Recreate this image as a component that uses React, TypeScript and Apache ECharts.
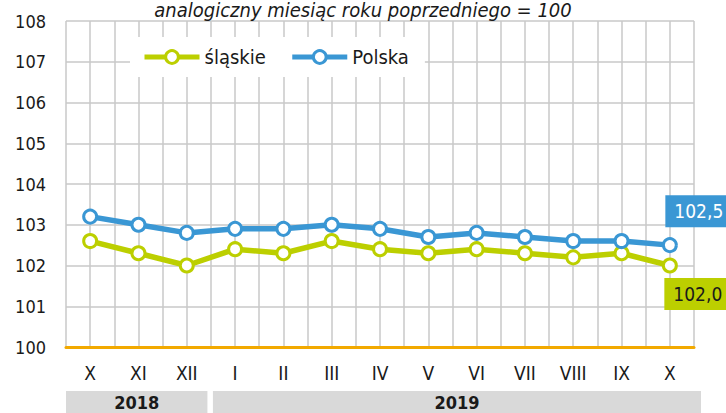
import React, { useEffect, useRef } from "react";
import * as echarts from "echarts";

const months = ["X", "XI", "XII", "I", "II", "III", "IV", "V", "VI", "VII", "VIII", "IX", "X"];
const slaskie = [102.6, 102.3, 102.0, 102.4, 102.3, 102.6, 102.4, 102.3, 102.4, 102.3, 102.2, 102.3, 102.0];
const polska = [103.2, 103.0, 102.8, 102.9, 102.9, 103.0, 102.9, 102.7, 102.8, 102.7, 102.6, 102.6, 102.5];
const years = ["2018", "2019"];
const yearSpans = [3, 10];
const yMin = 100;
const yMax = 108;
const yStep = 1;
const titleText = "analogiczny miesiąc roku poprzedniego = 100";

const GREEN = "#bccf00";
const BLUE = "#3a97d4";
const FONT = "'DejaVu Sans Condensed', 'Liberation Sans Narrow', 'Noto Sans', sans-serif";
const TXT = "#1a1a1a";

const fmt = (v: number) => v.toFixed(1).replace(".", ",");

export default function App() {
  const ref = useRef<HTMLDivElement>(null);
  useEffect(() => {
    if (!ref.current) return;
    const chart = echarts.init(ref.current, undefined, { renderer: "svg" });
    const last = months.length - 1;
    const mk = (arr: number[], labelBg: string, labelColor: string, pos: number[]) =>
      arr.map((v, i) =>
        i === last
          ? {
              value: v,
              label: {
                show: true,
                position: pos,
                formatter: () => fmt(v),
                backgroundColor: labelBg,
                color: labelColor,
                fontSize: 19,
                fontFamily: FONT,
                lineHeight: 24,
                padding: [4, 10, 4, 9],
              },
            }
          : v
      );
    chart.setOption({
      animation: false,
      textStyle: { fontFamily: FONT },
      title: {
        text: titleText,
        left: "center",
        top: -5,
        textStyle: { fontStyle: "italic", fontWeight: "normal", fontSize: 20, color: TXT, fontFamily: FONT },
      },
      legend: {
        left: 130,
        top: 37,
        padding: [10, 16, 10, 12],
        backgroundColor: "#ffffff",
        itemWidth: 55,
        itemHeight: 16,
        itemGap: 24,
        lineStyle: { width: 5 },
        textStyle: { fontSize: 20, color: TXT, fontFamily: FONT },
        data: [
          { name: "śląskie", lineStyle: { width: 5, color: GREEN }, itemStyle: { color: "#fff", borderColor: GREEN, borderWidth: 3 } },
          { name: "Polska", lineStyle: { width: 5, color: BLUE }, itemStyle: { color: "#fff", borderColor: BLUE, borderWidth: 3 } },
        ],
      },
      grid: { left: 66, right: 32, top: 21, bottom: 66 },
      xAxis: [
        {
          type: "category",
          data: months,
          boundaryGap: true,
          axisLine: { show: true, lineStyle: { color: "#f2a900", width: 3 } },
          axisTick: { show: false },
          splitLine: { show: false },
          axisLabel: { color: TXT, fontSize: 19, margin: 16, fontFamily: FONT, interval: 0 },
          z: 5,
        },
        {
          type: "category",
          data: Array.from({ length: months.length * 2 }, (_, i) => String(i)),
          boundaryGap: true,
          position: "bottom",
          axisLine: { show: false },
          axisTick: { show: false },
          axisLabel: { show: false },
          splitLine: { show: true, lineStyle: { color: "#c8c8c8", width: 1.5 } },
        },
      ],
      yAxis: {
        type: "value",
        min: yMin,
        max: yMax,
        interval: yStep,
        axisLine: { show: false },
        axisTick: { show: false },
        axisLabel: { color: TXT, fontSize: 18, margin: 20, fontFamily: FONT },
        splitLine: { show: true, lineStyle: { color: "#c8c8c8", width: 1.5 } },
      },
      series: [
        {
          name: "śląskie",
          type: "line",
          xAxisIndex: 0,
          data: mk(slaskie, GREEN, TXT, [2.5, 20.5]),
          lineStyle: { color: GREEN, width: 5.5 },
          itemStyle: { color: "#ffffff", borderColor: GREEN, borderWidth: 3 },
          symbol: "circle",
          symbolSize: 13,
          showAllSymbol: true,
          z: 3,
        },
        {
          name: "Polska",
          type: "line",
          xAxisIndex: 0,
          data: mk(polska, BLUE, "#ffffff", [3.5, -42]),
          lineStyle: { color: BLUE, width: 5.5 },
          itemStyle: { color: "#ffffff", borderColor: BLUE, borderWidth: 3 },
          symbol: "circle",
          symbolSize: 13,
          showAllSymbol: true,
          z: 4,
        },
      ],
    });

    const px = (i: number) => chart.convertToPixel({ xAxisIndex: 0 }, i) as number;
    const step = px(1) - px(0);
    const graphics: any[] = [];
    let start = 0;
    years.forEach((y, gi) => {
      const end = start + yearSpans[gi] - 1;
      const left = px(start) - step / 2 + (gi > 0 ? 2 : 0);
      const right = px(end) + step / 2 + (gi < years.length - 1 ? -3.5 : 7);
      graphics.push({
        type: "rect",
        shape: { x: left, y: 391, width: right - left, height: 30 },
        style: { fill: "#d9d9d9" },
        silent: true,
      });
      graphics.push({
        type: "text",
        x: (left + right) / 2,
        y: 402,
        style: {
          text: y,
          fill: TXT,
          font: `bold 18px ${FONT}`,
          align: "center",
          verticalAlign: "middle",
        },
        silent: true,
      });
      start = end + 1;
    });
    chart.setOption({ graphic: graphics });

    return () => chart.dispose();
  }, []);
  return <div ref={ref} style={{ width: 726, height: 413, position: "absolute", left: 0, top: 0 }} />;
}
